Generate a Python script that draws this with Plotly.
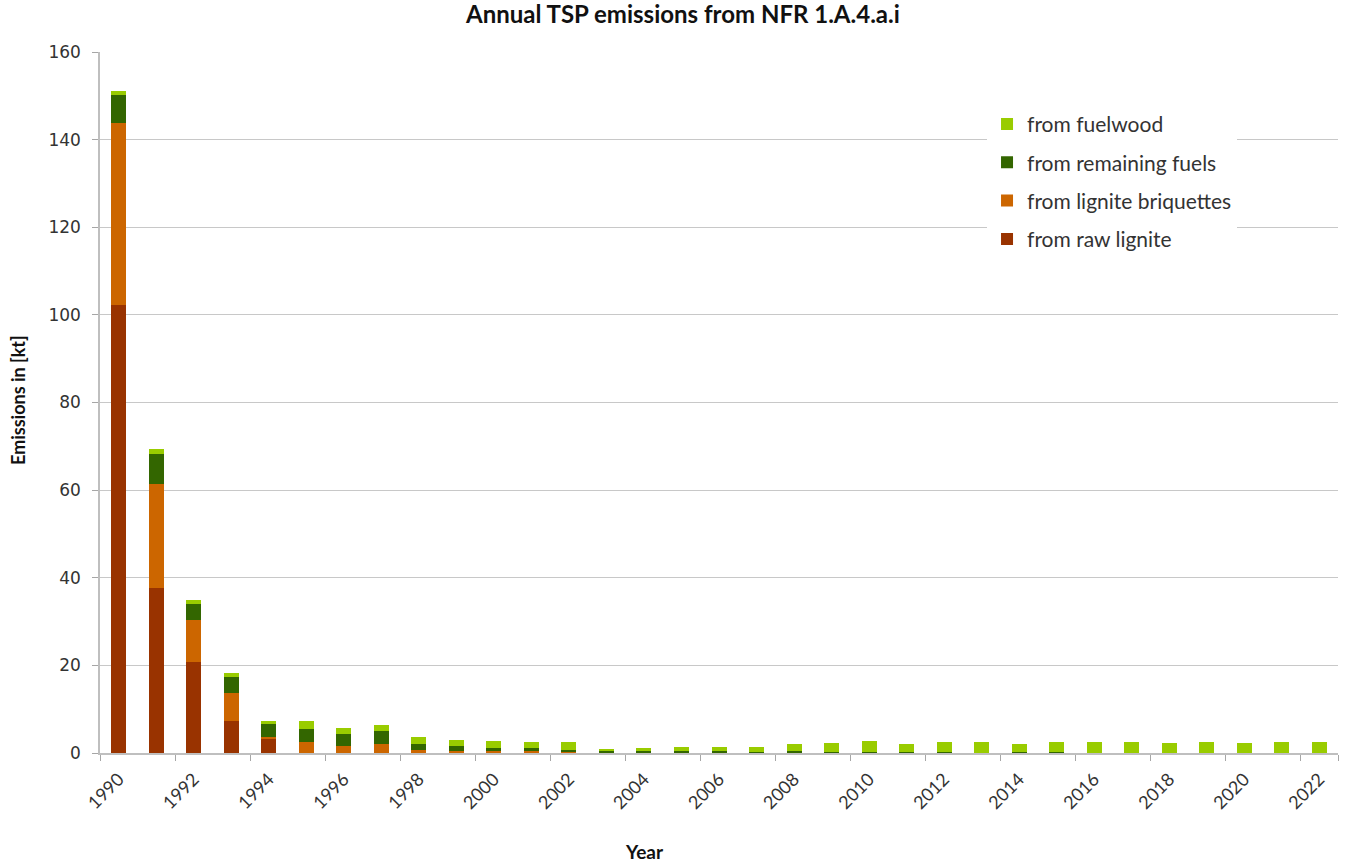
import plotly.graph_objects as go

years = [str(y) for y in range(1990, 2023)]

raw_lignite = [102.3, 37.6, 20.8, 7.4, 3.2, 0.1, 0.0, 0.0, 0.0, 0.0, 0.0, 0.0, 0.0, 0.0, 0.0, 0.0, 0.0,
               0.0, 0.0, 0.0, 0.0, 0.0, 0.0, 0.0, 0.0, 0.0, 0.0, 0.0, 0.0, 0.0, 0.0, 0.0, 0.0]
lignite_briquettes = [41.5, 23.8, 9.6, 6.2, 0.4, 2.3, 1.7, 2.0, 0.7, 0.5, 0.5, 0.35, 0.2, 0.05, 0.05, 0.05, 0.05,
                      0.0, 0.0, 0.0, 0.0, 0.0, 0.0, 0.0, 0.0, 0.0, 0.0, 0.0, 0.0, 0.0, 0.0, 0.0, 0.0]
remaining_fuels = [6.4, 6.8, 3.6, 3.8, 3.0, 3.1, 2.6, 3.0, 1.3, 1.1, 0.7, 0.8, 0.6, 0.55, 0.4, 0.4, 0.35,
                   0.3, 0.4, 0.3, 0.3, 0.3, 0.3, 0.1, 0.3, 0.3, 0.05, 0.05, 0.05, 0.05, 0.05, 0.05, 0.05]
fuelwood = [0.8, 1.1, 1.0, 0.9, 0.8, 1.7, 1.5, 1.4, 1.6, 1.4, 1.5, 1.35, 1.7, 0.3, 0.8, 0.9, 0.95,
            1.0, 1.7, 1.9, 2.5, 1.7, 2.1, 2.5, 1.7, 2.1, 2.35, 2.35, 2.15, 2.35, 2.15, 2.35, 2.35]

series = [
    ("from raw lignite", raw_lignite, "#993300", 4),
    ("from lignite briquettes", lignite_briquettes, "#CC6600", 3),
    ("from remaining fuels", remaining_fuels, "#336600", 2),
    ("from fuelwood", fuelwood, "#99CC00", 1),
]

fig = go.Figure()
for name, vals, color, rank in series:
    fig.add_trace(go.Bar(x=years, y=vals, name=name, marker_color=color,
                         marker_line_width=0, legendgroup=name, legendrank=rank))

TXT = "#333333"
fig.update_layout(
    barmode="stack",
    bargap=0.6,
    width=1347, height=865,
    margin=dict(l=100, r=9, t=52, b=112),
    paper_bgcolor="white", plot_bgcolor="white",
    title=dict(text="<b>Annual TSP emissions from NFR 1.A.4.a.i</b>", x=0.507, xanchor="center",
               yref="container", y=0.983, yanchor="middle",
               font=dict(family="Lato", size=24, color="#111111")),
    font=dict(family="Lato", color=TXT),
    legend=dict(x=0.7165, y=0.926, xanchor="left", yanchor="top",
                traceorder="grouped", tracegroupgap=8,
                bgcolor="white", font=dict(family="Lato", size=21, color=TXT),
                itemwidth=30),
    xaxis=dict(type="category", tickmode="array", tickvals=years[::2], ticktext=years[::2],
               tickson="boundaries", ticks="outside", ticklen=6, tickcolor="#A6A6A6",
               showline=True, linecolor="#BFBFBF", linewidth=1.5, showgrid=False,
               tickangle=-45, tickfont=dict(family="Lato", size=18, color=TXT),
               ticklabelstandoff=7, automargin=False),
    yaxis=dict(range=[0, 160], dtick=20, ticks="outside", ticklen=6, tickcolor="#A6A6A6",
               showline=True, linecolor="#BFBFBF", linewidth=1.5,
               showgrid=True, gridcolor="#C8C8C8", gridwidth=1, zeroline=False,
               tickfont=dict(family="DejaVu Sans", size=17, color=TXT),
               ticklabelstandoff=8, automargin=False),
    annotations=[
        dict(text="<b>Year</b>", xref="paper", yref="paper", x=0.440, y=-0.141,
             xanchor="center", yanchor="middle", showarrow=False,
             font=dict(family="Lato", size=19, color="#111111")),
        dict(text="<b>Emissions in [kt]</b>", xref="paper", yref="paper", x=-0.0662, y=0.5036,
             xanchor="center", yanchor="middle", textangle=-90, showarrow=False,
             font=dict(family="Lato", size=18, color="#111111")),
    ],
)

fig.write_html("out.html", config={"displayModeBar": False},
               post_script="document.body.style.margin='0';")
